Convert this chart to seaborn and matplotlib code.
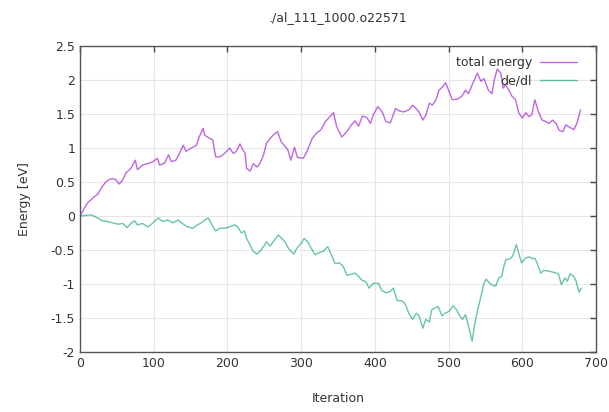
import matplotlib
matplotlib.use("Agg")
import matplotlib.pyplot as plt
import pandas as pd
import seaborn as sns

# values
iter_energy = [0, 10, 19, 24, 30, 35, 40, 44, 49, 53, 58, 62, 69, 75, 78, 85, 92, 99,
               105, 108, 115, 120, 124, 130, 135, 140, 144, 151, 158, 162, 167, 169,
               176, 180, 184, 190, 196, 203, 208, 212, 217, 221, 224, 226, 231, 235,
               240, 244, 249, 253, 258, 262, 268, 273, 277, 282, 286, 291, 295, 303,
               308, 315, 321, 327, 333, 338, 344, 348, 355, 362, 369, 373, 378, 383,
               389, 394, 398, 404, 410, 415, 421, 428, 432, 439, 446, 451, 456, 460,
               465, 469, 474, 478, 483, 487, 492, 496, 500, 505, 512, 518, 523, 527,
               532, 539, 544, 548, 554, 559, 562, 566, 571, 574, 577, 582, 586, 591,
               595, 600, 605, 609, 613, 617, 622, 627, 632, 636, 641, 646, 650, 655,
               659, 665, 670, 674, 679]
energy = [0.0, 0.19, 0.28, 0.32, 0.43, 0.50, 0.54, 0.55, 0.53, 0.47, 0.53, 0.63, 0.70,
          0.82, 0.68, 0.75, 0.77, 0.80, 0.85, 0.75, 0.78, 0.90, 0.80, 0.82, 0.92, 1.04,
          0.95, 1.00, 1.04, 1.17, 1.29, 1.19, 1.14, 1.12, 0.87, 0.87, 0.92, 1.00, 0.92,
          0.95, 1.06, 0.97, 0.92, 0.70, 0.66, 0.77, 0.72, 0.77, 0.90, 1.07, 1.14, 1.19,
          1.24, 1.09, 1.04, 0.97, 0.82, 1.01, 0.86, 0.85, 0.95, 1.14, 1.22, 1.27, 1.39,
          1.45, 1.52, 1.32, 1.16, 1.24, 1.35, 1.40, 1.32, 1.47, 1.45, 1.36, 1.49, 1.61,
          1.53, 1.39, 1.37, 1.58, 1.55, 1.53, 1.56, 1.63, 1.58, 1.53, 1.41, 1.48, 1.66,
          1.63, 1.71, 1.85, 1.90, 1.96, 1.85, 1.71, 1.72, 1.76, 1.85, 1.80, 1.93, 2.10,
          1.98, 2.02, 1.85, 1.80, 2.00, 2.16, 2.10, 1.88, 1.93, 1.85, 1.76, 1.71, 1.52,
          1.44, 1.52, 1.46, 1.49, 1.71, 1.53, 1.41, 1.39, 1.36, 1.41, 1.36, 1.26, 1.24,
          1.34, 1.30, 1.27, 1.36, 1.56]

iter_dedl = [0, 8, 15, 19, 24, 30, 37, 44, 51, 58, 64, 69, 74, 78, 85, 92, 96, 101, 106,
             112, 119, 126, 133, 140, 146, 153, 159, 165, 169, 174, 178, 184, 190, 196,
             203, 210, 214, 219, 223, 226, 231, 235, 240, 244, 249, 253, 258, 262, 269,
             274, 278, 283, 290, 294, 300, 304, 309, 314, 319, 324, 330, 336, 341, 346,
             352, 357, 362, 367, 373, 378, 382, 388, 392, 398, 405, 409, 415, 421, 425,
             430, 437, 441, 446, 451, 456, 460, 465, 469, 474, 477, 482, 486, 491, 495,
             501, 506, 511, 514, 519, 523, 527, 532, 535, 539, 544, 548, 551, 556, 560,
             564, 568, 572, 575, 578, 583, 587, 592, 595, 599, 604, 609, 614, 617, 620,
             625, 629, 636, 643, 649, 653, 658, 661, 665, 670, 673, 677, 680]
dedl = [0.0, 0.01, 0.015, 0.0, -0.03, -0.07, -0.08, -0.10, -0.12, -0.11, -0.17, -0.11,
        -0.07, -0.13, -0.11, -0.16, -0.13, -0.08, -0.03, -0.08, -0.06, -0.10, -0.06,
        -0.12, -0.16, -0.18, -0.13, -0.10, -0.06, -0.03, -0.11, -0.22, -0.18, -0.18,
        -0.16, -0.13, -0.16, -0.25, -0.22, -0.33, -0.43, -0.52, -0.56, -0.52, -0.45,
        -0.38, -0.44, -0.38, -0.28, -0.33, -0.38, -0.48, -0.56, -0.48, -0.40, -0.33,
        -0.38, -0.48, -0.57, -0.54, -0.52, -0.45, -0.57, -0.70, -0.69, -0.74, -0.87,
        -0.86, -0.84, -0.89, -0.94, -0.97, -1.06, -0.99, -0.99, -1.09, -1.13, -1.11,
        -1.06, -1.24, -1.25, -1.29, -1.43, -1.52, -1.43, -1.47, -1.65, -1.52, -1.56,
        -1.38, -1.35, -1.33, -1.47, -1.43, -1.40, -1.32, -1.38, -1.45, -1.52, -1.45,
        -1.62, -1.84, -1.62, -1.40, -1.18, -0.99, -0.93, -0.99, -1.02, -1.03, -0.91,
        -0.89, -0.74, -0.64, -0.63, -0.59, -0.42, -0.54, -0.69, -0.62, -0.60, -0.63,
        -0.62, -0.69, -0.84, -0.80, -0.81, -0.83, -0.85, -1.01, -0.91, -0.96, -0.85,
        -0.89, -0.96, -1.12, -1.06]

sns.set_theme(style="white")
plt.rcParams["font.family"] = ["DejaVu Sans"]

df_e = pd.DataFrame({"Iteration": iter_energy, "value": energy})
df_d = pd.DataFrame({"Iteration": iter_dedl, "value": dedl})

fig = plt.figure(figsize=(6.09, 4.12), dpi=100)
ax = fig.add_axes([80 / 609, 1 - 352 / 412, 516 / 609, 306 / 412])

sns.lineplot(data=df_e, x="Iteration", y="value", ax=ax, color="#9400d3",
             alpha=0.6, linewidth=1.0, label="total energy")
sns.lineplot(data=df_d, x="Iteration", y="value", ax=ax, color="#009e73",
             alpha=0.6, linewidth=1.0, label="de/dl")

ax.set_xlim(0, 700)
ax.set_ylim(-2, 2.5)
ax.set_xticks(range(0, 701, 100))
ax.set_yticks([-2, -1.5, -1, -0.5, 0, 0.5, 1, 1.5, 2, 2.5])
ax.set_yticklabels(["-2", "-1.5", "-1", "-0.5", "0", "0.5", "1", "1.5", "2", "2.5"])
ax.grid(True, color="#e6e6e6", linewidth=0.8)
ax.tick_params(direction="in", length=4, width=1, colors="#444444", labelsize=9,
               top=True, right=True, labelcolor="#333333")
for s in ax.spines.values():
    s.set_color("#555555")
    s.set_linewidth(1.0)

ax.set_xlabel("Iteration", fontsize=9, color="#333333", labelpad=16)
ax.set_ylabel("Energy [eV]", fontsize=9, color="#333333", labelpad=14)
ax.set_title("./al_111_1000.o22571", fontsize=9, color="#333333", pad=18)

leg = ax.legend(loc="upper right", bbox_to_anchor=(0.983, 1.0), markerfirst=False,
                frameon=False, fontsize=9, handlelength=3.0, handletextpad=0.6,
                labelspacing=0.4, borderaxespad=0.4)
for t in leg.get_texts():
    t.set_color("#333333")

fig.savefig("out.png", dpi=100)
